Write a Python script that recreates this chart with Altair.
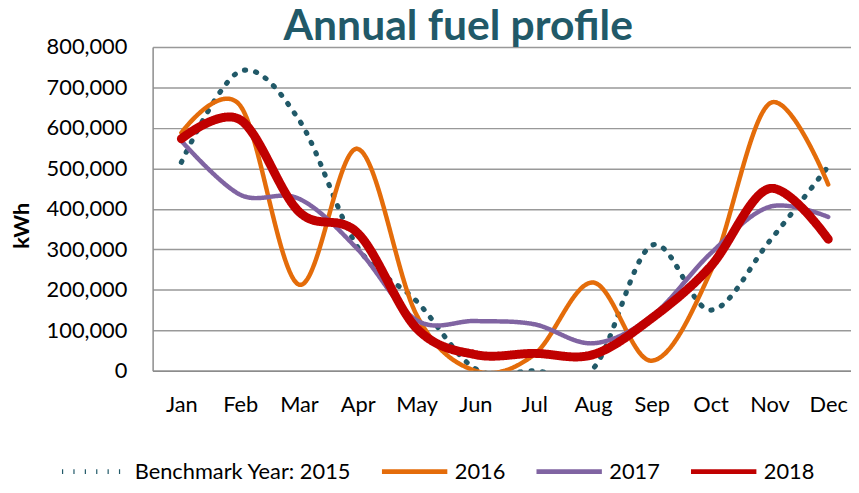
import altair as alt
import pandas as pd

months = ["Jan", "Feb", "Mar", "Apr", "May", "Jun", "Jul", "Aug", "Sep", "Oct", "Nov", "Dec"]
series_names = ["Benchmark Year: 2015", "2016", "2017", "2018"]
bench_2015 = [515000, 740000, 620000, 305000, 172000, 5000, 0, 5000, 310000, 150000, 320000, 505000]
y_2016 = [588000, 655000, 213000, 548000, 138000, 0, 40000, 218000, 25000, 245000, 660000, 460000]
y_2017 = [568000, 435000, 425000, 300000, 125000, 123000, 115000, 68000, 135000, 290000, 405000, 380000]
y_2018 = [573000, 620000, 393000, 340000, 105000, 40000, 43000, 40000, 130000, 258000, 450000, 325000]
y_ticks = [0, 100000, 200000, 300000, 400000, 500000, 600000, 700000, 800000]

colors = ["#215968", "#E46C0A", "#8064A2", "#C00000"]
dashes = [[1.2, 10.3], [1, 0], [1, 0], [1, 0]]

rows = []
for name, vals in zip(series_names, [bench_2015, y_2016, y_2017, y_2018]):
    for i, (m, v) in enumerate(zip(months, vals)):
        rows.append({"series": name, "month": m, "idx": i, "kwh": v})
df = pd.DataFrame(rows)

month_expr = "[" + ",".join("'%s'" % m for m in months) + "][datum.value]"
FONT = "Lato"

width_expr = ("datum.series === '2018' ? 9 : "
              "(datum.series === 'Benchmark Year: 2015' ? 5.2 : 4.5)")

lines = alt.Chart(df).mark_line(
    interpolate="cardinal", tension=0, strokeCap="round", clip=True
).transform_calculate(
    lw=width_expr
).encode(
    x=alt.X("idx:Q",
            scale=alt.Scale(domain=[-0.4886, 11.387], nice=False, zero=False),
            axis=alt.Axis(values=list(range(12)), labelExpr=month_expr, title=None,
                          grid=False, ticks=False, tickSize=0, domainColor="#8C8C8C",
                          domainWidth=1.5, labelFontSize=22, labelFont=FONT,
                          labelColor="#000000", labelPadding=24)),
    y=alt.Y("kwh:Q",
            scale=alt.Scale(domain=[0, 800000], nice=False),
            axis=alt.Axis(values=y_ticks, format=",d", title="kWh", grid=True,
                          gridColor="#999999", gridWidth=1.5, ticks=False, tickSize=0,
                          domainColor="#8C8C8C", domainWidth=1.5, labelFontSize=22,
                          labelFont=FONT, labelColor="#000000", labelPadding=26,
                          titleFont=FONT, titleFontSize=22, titleFontWeight="bold",
                          titleColor="#000000", titleAngle=270, titleX=-132, titleY=180,
                          titleAlign="center", titleBaseline="middle")),
    color=alt.Color("series:N", scale=alt.Scale(domain=series_names, range=colors),
                    legend=alt.Legend(title=None)),
    strokeDash=alt.StrokeDash("series:N", scale=alt.Scale(domain=series_names, range=dashes),
                              legend=alt.Legend(title=None)),
    strokeWidth=alt.StrokeWidth("lw:Q", scale=None, legend=None),
    order=alt.Order("idx:Q"),
)

chart = lines.properties(
    width=705,
    height=327,
    autosize=alt.AutoSizeParams(type="none"),
    padding={"left": 146, "top": 37, "right": 0, "bottom": 113},
    title=alt.TitleParams(text="Annual fuel profile", font=FONT, fontSize=43,
                          fontWeight="bold", color="#215968", anchor="middle",
                          frame="group", dx=-44, dy=13, offset=0),
).configure_view(stroke=None).configure_legend(
    orient="none", legendX=-94, legendY=393, direction="horizontal",
    symbolType="stroke", symbolSize=4356, symbolStrokeWidth=5,
    labelFont=FONT, labelFontSize=22, labelLimit=0,
    labelColor="#000000", labelOffset=5, columnPadding=20, padding=0,
)

chart.save("out.html", embed_options={"renderer": "svg", "actions": False})
